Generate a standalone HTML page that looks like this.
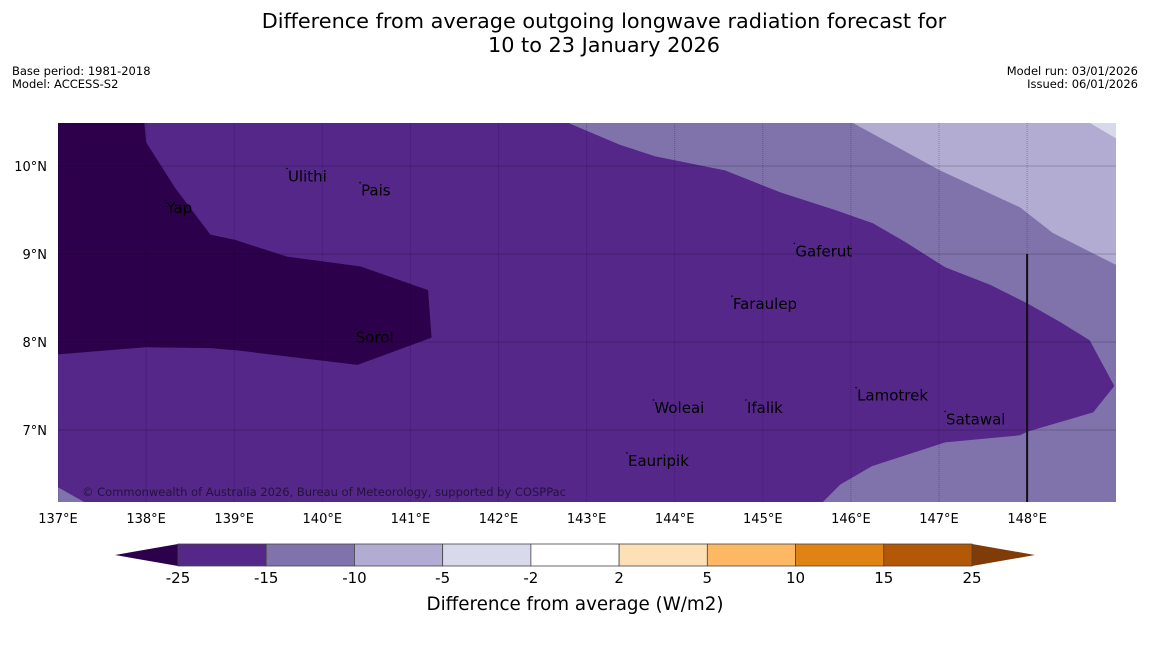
<!DOCTYPE html>
<html><head><meta charset="utf-8"><style>
body{margin:0;background:#fff;width:1150px;height:644px;overflow:hidden;font-family:"Liberation Sans","DejaVu Sans",sans-serif}
</style></head><body>
<svg width="1150" height="644" style="font-family:'DejaVu Sans','Liberation Sans',sans-serif">
<text x="604" y="28" text-anchor="middle" font-size="20.8">Difference from average outgoing longwave radiation forecast for</text>
<text x="604" y="52" text-anchor="middle" font-size="20.8">10 to 23 January 2026</text>
<text x="12" y="75" font-size="11.5">Base period: 1981-2018</text>
<text x="12" y="88" font-size="11.5">Model: ACCESS-S2</text>
<text x="1138" y="75" font-size="11.5" text-anchor="end">Model run: 03/01/2026</text>
<text x="1138" y="88" font-size="11.5" text-anchor="end">Issued: 06/01/2026</text>
<defs><clipPath id="mc"><rect x="58" y="123" width="1058" height="379"/></clipPath></defs>
<g id="map" clip-path="url(#mc)"></g>
<g id="axes"></g>
<g id="cbar"></g>
<text x="575" y="610" text-anchor="middle" font-size="18.3">Difference from average (W/m2)</text>
</svg>
<script>
const lonTicks=[137,138,139,140,141,142,143,144,145,146,147,148];
const latTicks=[7,8,9,10];
const levels=["-25","-15","-10","-5","-2","2","5","10","15","25"];
const levelColors=["#542788","#8073ac","#b2abd2","#d8daeb","#ffffff","#fee0b6","#fdb863","#e08214","#b35806"];
const places=[["Yap",138.23,9.52],["Ulithi",139.61,9.88],["Pais",140.44,9.72],["Sorol",140.38,8.05],["Gaferut",145.37,9.03],["Faraulep",144.66,8.43],["Woleai",143.77,7.25],["Ifalik",144.82,7.25],["Eauripik",143.47,6.65],["Lamotrek",146.07,7.39],["Satawal",147.08,7.12]];
const darkest=[[137,10.49],[137.98,10.49],[138,10.27],[138.33,9.75],[138.73,9.22],[139.01,9.16],[139.6,8.97],[140.43,8.86],[141.2,8.59],[141.24,8.05],[140.4,7.74],[139.07,7.9],[138.73,7.93],[137.99,7.94],[137,7.86]];
const band15=[[137,10.49],[142.79,10.49],[143.38,10.24],[143.78,10.11],[144.57,9.95],[145.2,9.7],[145.82,9.5],[146.25,9.35],[146.61,9.14],[147.07,8.85],[147.58,8.65],[148.0,8.44],[148.37,8.23],[148.71,8.02],[148.99,7.5],[148.75,7.2],[148.0,6.98],[147.92,6.94],[147.07,6.86],[146.24,6.59],[145.88,6.38],[145.68,6.18],[137.3,6.18],[137,6.35]];
const band10=[[146.02,10.49],[147.01,9.95],[147.92,9.53],[148.29,9.24],[149.0,8.88],[149.2,8.88],[149.2,10.49]];
const band5=[[148.71,10.49],[149.2,10.49],[149.2,10.3],[149.0,10.32]];
function X(l){return 58+(l-137)*88.1}
function Y(l){return 166+(10-l)*88}
const NS="http://www.w3.org/2000/svg";
function mk(t,a,p){const e=document.createElementNS(NS,t);for(const k in a)e.setAttribute(k,a[k]);p.appendChild(e);return e}
const map=document.getElementById('map');
let r=mk('rect',{x:58,y:123,width:1058,height:379,fill:'#8073ac'},map);


[[band15,'#542788','band-minus15'],[darkest,'#2d004b','band-minus25'],[band10,'#b2abd2','band-minus10'],[band5,'#d8daeb','band-minus5']].forEach(([p,c,n])=>{
 const e=mk('polygon',{points:p.map(q=>X(q[0])+','+Y(q[1])).join(' '),fill:c},map);
 
 
});
lonTicks.forEach(l=>{const e=mk('line',{x1:X(l),x2:X(l),y1:123,y2:502,stroke:'#000','stroke-opacity':0.25,'stroke-width':1,'stroke-dasharray':'1,1'},map);
 
 });
latTicks.forEach(l=>{const e=mk('line',{x1:58,x2:1116,y1:Y(l),y2:Y(l),stroke:'#000','stroke-opacity':0.2,'stroke-width':1},map);
 
 });
let bl=mk('line',{x1:X(148),x2:X(148),y1:Y(9),y2:502,stroke:'#111','stroke-width':2},map);


places.forEach(([n,lo,la])=>{
 const d=mk('circle',{cx:X(lo)-1,cy:Y(la)-8,r:0.8,fill:'#000'},map);
 
 
 const t=mk('text',{x:X(lo),y:Y(la)+5,'font-size':15,fill:'#000'},map);t.textContent=n;
 
 });
let cp=mk('text',{x:82,y:496,'font-size':11.5,fill:'#000','fill-opacity':0.55,textLength:484},map);cp.textContent='© Commonwealth of Australia 2026, Bureau of Meteorology, supported by COSPPac';


const axes=document.getElementById('axes');
lonTicks.forEach(l=>{const t=mk('text',{x:X(l),y:523,'font-size':13,'text-anchor':'middle'},axes);t.textContent=l+'°E';
 
 });
latTicks.forEach(l=>{const t=mk('text',{x:47,y:Y(l)+5,'font-size':13,'text-anchor':'end'},axes);t.textContent=l+'°N';
 
 });
const cb=document.getElementById('cbar');
const x0=178,x1=972,w=(x1-x0)/levelColors.length;
let lt=mk('polygon',{points:`115,555 ${x0},544 ${x0},566`,fill:'#2d004b'},cb);


let rt=mk('polygon',{points:`1035,555 ${x1},544 ${x1},566`,fill:'#7f3b08'},cb);


levelColors.forEach((c,i)=>{const e=mk('rect',{x:x0+i*w,y:544,width:w,height:22,fill:c,stroke:'#444','stroke-width':0.8},cb);
 
 });
levels.forEach((l,i)=>{const t=mk('text',{x:x0+i*w,y:583,'font-size':15,'text-anchor':'middle'},cb);t.textContent=l;
 
 });
</script>
</body></html>
